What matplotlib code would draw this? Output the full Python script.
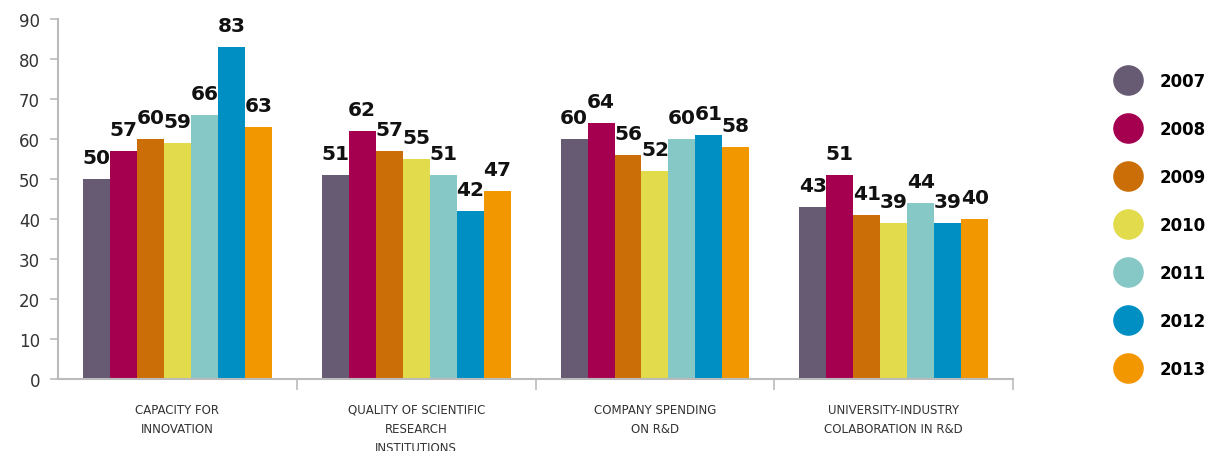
import matplotlib
matplotlib.use("Agg")
from matplotlib import pyplot as plt
from matplotlib.lines import Line2D
import numpy as np

categories = ["CAPACITY FOR\nINNOVATION",
              "QUALITY OF SCIENTIFIC\nRESEARCH\nINSTITUTIONS",
              "COMPANY SPENDING\nON R&D",
              "UNIVERSITY-INDUSTRY\nCOLABORATION IN R&D"]
years = ["2007", "2008", "2009", "2010", "2011", "2012", "2013"]
v2007 = [50, 51, 60, 43]
v2008 = [57, 62, 64, 51]
v2009 = [60, 57, 56, 41]
v2010 = [59, 55, 52, 39]
v2011 = [66, 51, 60, 44]
v2012 = [83, 42, 61, 39]
v2013 = [63, 47, 58, 40]
series = [v2007, v2008, v2009, v2010, v2011, v2012, v2013]
colors = ["#675a73", "#a50050", "#cc6e07", "#e2db4c", "#86c8c6", "#008fc2", "#f39700"]

fig = plt.figure(figsize=(12.09, 4.52), dpi=100)
ax = fig.add_axes([0.048, 0.159, 0.79, 0.797])

x = np.arange(len(categories))
w = 0.113
for i, vals in enumerate(series):
    pos = x + (i - 3) * w
    ax.bar(pos, vals, width=w, color=colors[i], linewidth=0)
    for p, v in zip(pos, vals):
        ax.text(p, v + 3, str(v), ha="center", va="bottom",
                fontsize=14.5, fontweight="bold", color="#111111")

ax.set_xlim(-0.5, 3.5)
ax.set_ylim(0, 90)
ax.set_yticks(range(0, 91, 10))
ax.set_xticks(x)
ax.set_xticklabels(categories, fontsize=8.5, color="#333333", linespacing=1.6)
ax.set_xticks([0.5, 1.5, 2.5, 3.5], minor=True)
ax.tick_params(axis="x", which="major", length=0, pad=17)
ax.tick_params(axis="x", which="minor", length=8, color="#bbbbbb", width=1.2)
ax.tick_params(axis="y", length=6, color="#bbbbbb", width=1.2, labelsize=12,
               labelcolor="#333333", pad=7)
for s in ["top", "right"]:
    ax.spines[s].set_visible(False)
for s in ["left", "bottom"]:
    ax.spines[s].set_color("#bbbbbb")
    ax.spines[s].set_linewidth(1.5)

handles = [Line2D([], [], marker="o", linestyle="", markersize=21,
                  markerfacecolor=c, markeredgecolor=c) for c in colors]
fig.legend(handles, years, loc="upper left", bbox_to_anchor=(0.907, 0.872),
           frameon=False, labelspacing=1.8, handletextpad=0.9,
           prop={"size": 12, "weight": "bold"})

fig.savefig("out.png", dpi=100)
